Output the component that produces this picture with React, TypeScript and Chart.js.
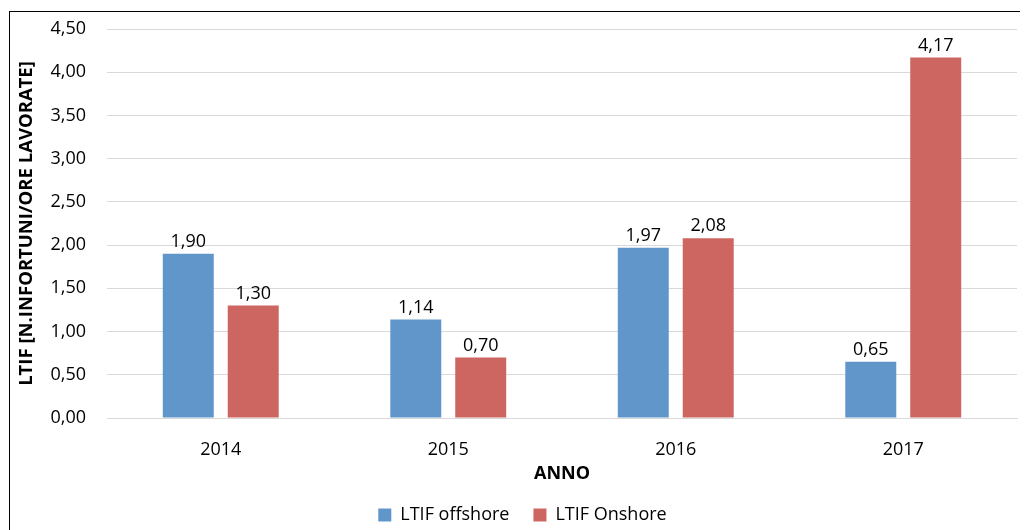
import React, { useEffect, useRef } from "react";
import { Chart, registerables } from "chart.js";

Chart.register(...registerables);

const categories = ["2014", "2015", "2016", "2017"];
const offshoreValues = [1.9, 1.14, 1.97, 0.65];
const onshoreValues = [1.3, 0.7, 2.08, 4.17];
const seriesNames = ["LTIF offshore", "LTIF Onshore"];
const yAxisTitle = "LTIF [N.INFORTUNI/ORE LAVORATE]";
const xAxisTitle = "ANNO";

const FONT = "'Open Sans', sans-serif";
const fmt = (v: number) => v.toFixed(2).replace(".", ",");

const dataLabels = {
  id: "dataLabels",
  afterDatasetsDraw(chart: any) {
    const ctx = chart.ctx;
    ctx.save();
    ctx.font = `18px ${FONT}`;
    ctx.fillStyle = "#000";
    ctx.textAlign = "center";
    ctx.textBaseline = "bottom";
    chart.data.datasets.forEach((ds: any, i: number) => {
      const meta = chart.getDatasetMeta(i);
      meta.data.forEach((el: any, j: number) => {
        ctx.fillText(fmt(ds.data[j]), el.x, el.y - 3);
      });
    });
    ctx.restore();
  },
};

const legendShift = {
  id: "legendShift",
  afterLayout(chart: any) {
    if (chart.legend) {
      chart.legend.left += 10;
      chart.legend.right += 10;
    }
  },
};

export default function App() {
  const ref = useRef<HTMLCanvasElement>(null);
  useEffect(() => {
    if (!ref.current) return;
    const chart = new Chart(ref.current, {
      type: "bar",
      data: {
        labels: categories,
        datasets: [
          {
            label: seriesNames[0],
            data: offshoreValues,
            backgroundColor: "#6196cb",
            barPercentage: 0.785,
            categoryPercentage: 0.571,
          },
          {
            label: seriesNames[1],
            data: onshoreValues,
            backgroundColor: "#cd6660",
            barPercentage: 0.785,
            categoryPercentage: 0.571,
          },
        ],
      },
      options: {
        animation: false,
        responsive: false,
        maintainAspectRatio: false,
        layout: { padding: { top: 21, right: 11, left: 0, bottom: 0 } },
        plugins: {
          tooltip: { enabled: false },
          legend: {
            position: "bottom",
            labels: {
              boxWidth: 13,
              boxHeight: 13,
              padding: 24,
              color: "#000",
              font: { family: FONT, size: 18 },
            },
          },
        },
        scales: {
          x: {
            afterFit: (s: any) => {
              s.height = 64;
            },
            grid: { display: false, drawTicks: false },
            border: { display: true, color: "#d9d9d9", width: 1 },
            ticks: {
              color: "#000",
              padding: 21,
              font: { family: FONT, size: 18 },
            },
            title: {
              display: true,
              text: xAxisTitle,
              color: "#000",
              font: { family: FONT, size: 18, weight: "bold" },
              padding: { top: 0, bottom: -3 },
            },
          },
          y: {
            min: 0,
            max: 4.5,
            afterFit: (s: any) => {
              s.width = 99;
              s.paddingTop = 0;
              s.paddingBottom = 0;
            },
            grid: { color: "#d9d9d9", drawTicks: false },
            border: { display: false },
            ticks: {
              stepSize: 0.5,
              color: "#000",
              padding: 21,
              font: { family: FONT, size: 18 },
              callback: (v: any) => fmt(Number(v)),
            },
            title: {
              display: true,
              text: yAxisTitle,
              color: "#000",
              font: { family: FONT, size: 18.5, weight: "bold" },
              padding: { top: 8, bottom: 0 },
            },
          },
        },
      },
      plugins: [dataLabels, legendShift],
    });
    return () => chart.destroy();
  }, []);

  return (
    <div style={{ position: "relative", width: 1020, height: 522, overflow: "hidden" }}>
      <div
        style={{
          position: "absolute",
          left: 1,
          top: 3,
          width: 1200,
          height: 700,
          border: "1px solid #000",
          boxSizing: "border-box",
        }}
      />
      <canvas
        ref={ref}
        width={1020}
        height={526}
        style={{ position: "absolute", left: 0, top: 0, width: 1020, height: 526 }}
      />
    </div>
  );
}
